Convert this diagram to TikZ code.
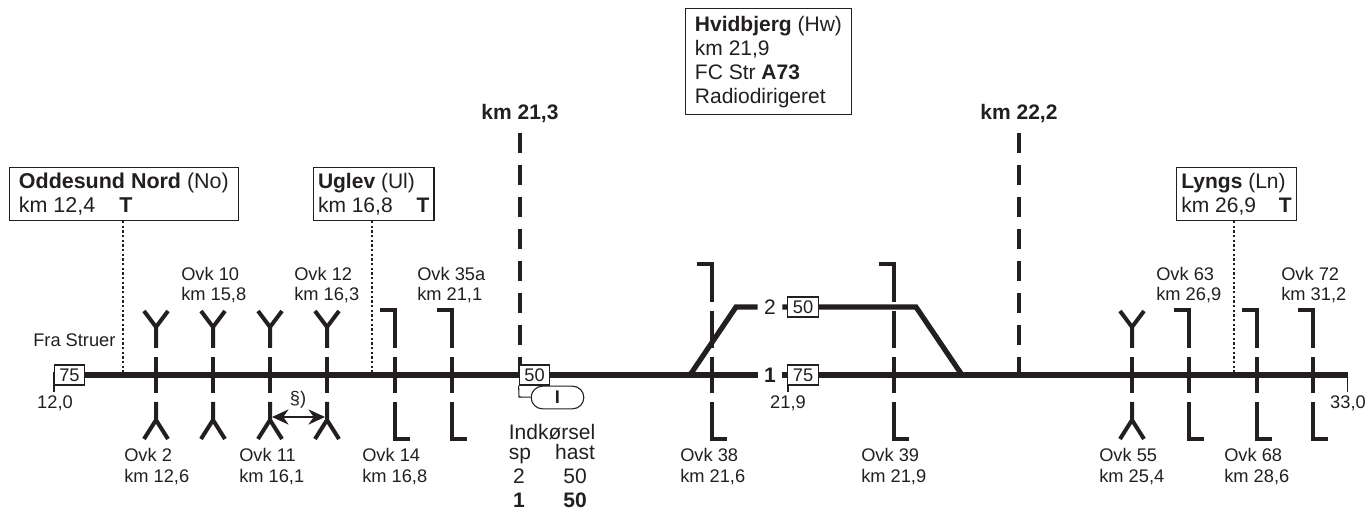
\documentclass[tikz,border=0pt]{standalone}
\usepackage{fontspec}
\setmainfont{Liberation Sans}
\usepackage{tikz}
\usetikzlibrary{arrows.meta}
\definecolor{ink}{HTML}{231F20}

\begin{document}
\begin{tikzpicture}[
		x=0.75pt, y=-0.75pt,
		every node/.style={text=ink},
		track/.style={draw=ink, line width=3.9pt, line join=miter},
		mast/.style={draw=ink, line width=3pt},
		kmline/.style={draw=ink, line width=3.2pt, dash pattern=on 15pt off 9pt},
		dotline/.style={draw=ink, line width=1.9pt, dash pattern=on 1.8pt off 1.7pt},
		thinline/.style={draw=ink, line width=0.8pt},
		stationbox/.style={draw=ink, line width=0.9pt, fill=white, align=left, anchor=north west, inner xsep=#1, inner ysep=0pt, font=\fontsize{15.75}{18}\selectfont},
		speedbox/.style={draw=ink, line width=0.8pt, fill=white, inner sep=0pt, minimum width=23pt, minimum height=15pt, font=\fontsize{13.7}{15}\selectfont},
		ovklabel/.style={align=left, anchor=base west, inner sep=0pt, font=\fontsize{13.7}{15.4}\selectfont},
		kmlabel/.style={anchor=base, inner sep=0pt, font=\fontsize{13.7}{15.4}\selectfont},
		bigtext/.style={anchor=base, inner sep=0pt, font=\fontsize{15.75}{18}\selectfont},
		tracknum/.style={inner sep=0pt, minimum width=18.2pt, minimum height=12pt, font=\fontsize{15.75}{18}\selectfont},
		arrow/.style={{Stealth[length=12.5pt, width=11.5pt]}-{Stealth[length=12.5pt, width=11.5pt]}, thinline},
		forkmast/.pic={
			\draw[mast] (-12,-64) -- (0,-48) -- (12,-64) (0,-48) -- (0,-27);
			\draw[mast] (0,-18) -- (0,18);
			\draw[mast] (0,27) -- (0,45) (-12,64) -- (0,45) -- (12,64);
		},
		flagmast/.pic={
			\draw[mast] (-15,-65) -- (0,-65) -- (0,-27);
			\draw[mast] (0,-18) -- (0,18);
			\draw[mast] (0,27) -- (0,64) -- (15,64);
		},
		tallmast/.pic={
			\draw[mast] (-15,-111) -- (0,-111) -- (0,-73);
			\draw[mast] (0,-64) -- (0,-27);
			\draw[mast] (0,-18) -- (0,18);
			\draw[mast] (0,27) -- (0,64) -- (15,64);
		}
		]
		\useasboundingbox (0,0) rectangle (1367,509);
		
		%==================== Track points ====================%
		\coordinate (trackstart) at (53,375);
		\coordinate (trackend) at (1348,375);
		\coordinate (startdrop) at (54,392);
		\coordinate (startdroptop) at (54,375);
		\coordinate (enddrop) at (1347.5,392);
		\coordinate (enddroptop) at (1347.5,375);
		\coordinate (middrop) at (788,392);
		\coordinate (midtop) at (788,375);
		\coordinate (switchwest) at (690,375);
		\coordinate (bendwest) at (736,307);
		\coordinate (bendeast) at (916,307);
		\coordinate (switcheast) at (962,375);
		
		\coordinate (ovk2) at (156,375);
		\coordinate (ovk10) at (213,375);
		\coordinate (ovk11) at (270,375);
		\coordinate (ovk12) at (327,375);
		\coordinate (ovk14) at (395,375);
		\coordinate (ovk35) at (452,375);
		\coordinate (ovk38) at (712,375);
		\coordinate (ovk39) at (894,375);
		\coordinate (ovk55) at (1132,375);
		\coordinate (ovk63) at (1189,375);
		\coordinate (ovk68) at (1257,375);
		\coordinate (ovk72) at (1313,375);
		
		\coordinate (oddesundpt) at (123,375);
		\coordinate (uglevpt) at (372,375);
		\coordinate (lyngspt) at (1234,375);
		
		\coordinate (kmwesttop) at (520,133);
		\coordinate (kmwestend) at (520,375);
		\coordinate (kmeasttop) at (1019,133);
		\coordinate (kmeastend) at (1019,375);
		
		\coordinate (arrowwest) at (272,417);
		\coordinate (arroweast) at (325,417);
		\coordinate (pillcorner) at (519,397);
		
		%==================== Station boxes ====================%
		\node[stationbox=7pt, minimum height=39.5pt, font=\fontsize{16.1}{18}\selectfont] (oddesund) at (9,167) {\textbf{Oddesund Nord} (No)\\km 12,4\hspace{18pt}\textbf{T}};
		\node[stationbox=3.3pt, minimum height=39.5pt] (uglev) at (313,167) {\textbf{Uglev} (Ul)\\km 16,8\hspace{18pt}\textbf{T}};
		\node[stationbox=3.6pt, minimum height=39.5pt] (lyngs) at (1176,167) {\textbf{Lyngs} (Ln)\\km 26,9\hspace{17pt}\textbf{T}};
		\node[stationbox=7pt, minimum height=79.5pt] (hvidbjerg) at (685,8) {\textbf{Hvidbjerg} (Hw)\\km 21,9\\FC Str \textbf{A73}\\Radiodirigeret};
		
		\node[bigtext] (kmwest) at (520,120) {\textbf{km 21,3}};
		\node[bigtext] (kmeast) at (1019,120) {\textbf{km 22,2}};
		
		%==================== Track ====================%
		\node[tracknum] (numone) at (770,375) {\textbf{1}};
		\node[tracknum] (numtwo) at (770,307) {2};
		
		\draw[dotline] (oddesund.south -| oddesundpt) -- (oddesundpt);
		\draw[dotline] (uglev.south -| uglevpt) -- (uglevpt);
		\draw[dotline] (lyngs.south -| lyngspt) -- (lyngspt);
		\draw[kmline] (kmwesttop) -- (kmwestend);
		\draw[kmline] (kmeasttop) -- (kmeastend);
		
		\draw[track] (trackstart) -- (numone);
		\draw[track] (numone) -- (trackend);
		\draw[track] (switchwest) -- (bendwest) -- (numtwo);
		\draw[track] (numtwo) -- (bendeast) -- (switcheast);
		
		\draw[thinline] (startdroptop) -- (startdrop);
		\draw[thinline] (enddroptop) -- (enddrop);
		\draw[thinline] (midtop) -- (middrop);
		
		%==================== Signals ====================%
		\pic at (ovk2) {forkmast};
		\pic at (ovk10) {forkmast};
		\pic at (ovk11) {forkmast};
		\pic at (ovk12) {forkmast};
		\pic at (ovk14) {flagmast};
		\pic at (ovk35) {flagmast};
		\pic at (ovk38) {tallmast};
		\pic at (ovk39) {tallmast};
		\pic at (ovk55) {forkmast};
		\pic at (ovk63) {flagmast};
		\pic at (ovk68) {flagmast};
		\pic at (ovk72) {flagmast};
		
		\draw[arrow] (arrowwest) -- (arroweast);
		\node[kmlabel] (paragraph) at (298,405) {§)};
		
		%==================== Speed boxes ====================%
		\node[speedbox] (speedstart) at (69.5,375) {75};
		\node[speedbox] (speedone) at (803,375) {75};
		\node[speedbox] (speedtwo) at (803,307) {50};
		\node[speedbox] (speedentry) at (534.5,375) {50};
		\node[draw=ink, line width=0.8pt, fill=white, rounded corners=8.5pt, inner sep=0pt, minimum width=39.5pt, minimum height=17pt, font=\fontsize{13.7}{15}\selectfont] (entrypill) at (557.5,397.5) {\textbf{I}};
		\draw[thinline] (speedentry.south west) -- (pillcorner) -- (entrypill);
		
		%==================== Labels ====================%
		\node[ovklabel] (fra) at (33,347) {Fra Struer};
		\node[kmlabel] (kmstart) at (55,409) {12,0};
		\node[kmlabel] (kmmid) at (788,409) {21,9};
		\node[kmlabel] (kmend) at (1348,409) {33,0};
		
		\node[ovklabel] (lovk10) at (181,301) {Ovk 10\\km 15,8};
		\node[ovklabel] (lovk12) at (294,301) {Ovk 12\\km 16,3};
		\node[ovklabel] (lovk35) at (417,301) {Ovk 35a\\km 21,1};
		\node[ovklabel] (lovk63) at (1156,301) {Ovk 63\\km 26,9};
		\node[ovklabel] (lovk72) at (1281,301) {Ovk 72\\km 31,2};
		
		\node[ovklabel] (lovk2) at (124,482) {Ovk 2\\km 12,6};
		\node[ovklabel] (lovk11) at (239,482) {Ovk 11\\km 16,1};
		\node[ovklabel] (lovk14) at (362,482) {Ovk 14\\km 16,8};
		\node[ovklabel] (lovk38) at (680,482) {Ovk 38\\km 21,6};
		\node[ovklabel] (lovk39) at (861,482) {Ovk 39\\km 21,9};
		\node[ovklabel] (lovk55) at (1099,482) {Ovk 55\\km 25,4};
		\node[ovklabel] (lovk68) at (1224,482) {Ovk 68\\km 28,6};
		
		% Entry speed table
		\node[bigtext] (entrytitle) at (552,440) {Indkørsel};
		\node[bigtext] (entrysp) at (520,459) {sp};
		\node[bigtext] (entryhast) at (575,459) {hast};
		\node[bigtext] (entrytwo) at (519,483) {2};
		\node[bigtext] (entryfifty) at (575,483) {50};
		\node[bigtext] (entryone) at (519,507) {\textbf{1}};
		\node[bigtext] (entryfiftyb) at (575,507) {\textbf{50}};
		
	\end{tikzpicture}
\end{document}
